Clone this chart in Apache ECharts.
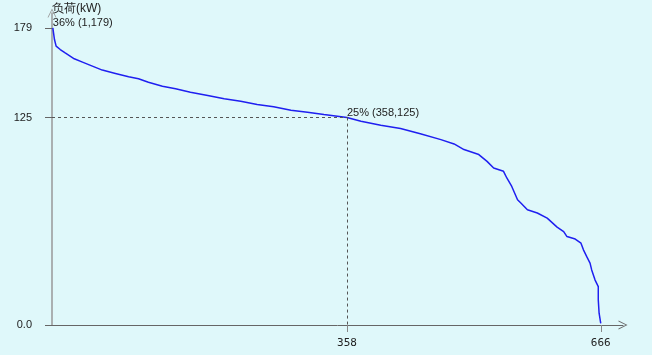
<!DOCTYPE html>
<html>
<head>
<meta charset="utf-8" />
<style>
  html, body { margin: 0; padding: 0; background: #dff8fa; }
  #main { width: 652px; height: 355px; }
</style>
</head>
<body>
<div id="main"></div>
<script src="https://cdn.jsdelivr.net/npm/echarts@6/dist/echarts.min.js"></script>
<script>
// hours (sorted) and load in kW
var hours = [1, 3, 5, 10, 16, 27, 37, 49, 61, 77, 93, 105, 117, 134, 150, 168, 189, 209, 229, 249,
  269, 290, 310, 330, 358, 375, 399, 423, 447, 472, 488, 500, 518, 528, 536, 548, 552, 558, 565, 569,
  577, 589, 601, 613, 621, 625, 635, 642, 645, 649, 653, 655, 659, 663, 663, 664, 666];
var loads = [179, 172, 168, 166, 164, 160.4, 158.4, 156, 153.6, 151.6, 149.6, 148.4, 146.3, 143.9, 142.3, 140.3, 138.3, 136.3, 134.8, 132.9,
  131.5, 129.4, 128.2, 126.8, 125, 122.8, 120.4, 118.4, 115.2, 111.7, 109.1, 105.7, 102.7, 98.6, 94.6, 92.6, 88.6, 83.5, 75.5, 73.5,
  69.4, 67.5, 64.4, 59, 56.3, 53.3, 51.8, 49.3, 45.3, 41.2, 37.3, 33.2, 27.2, 23.1, 15.1, 7.1, 1];

var xTicks = [358, 666];
var yTicks = [0, 125, 179];
var yTickText = ['0.0', '125', '179'];

var peak = [1, 179];
var mark = [358, 125];
var peakText = '36% (1,179)';
var markText = '25% (358,125)';

var chart = echarts.init(document.getElementById('main'));
var chevron = 'path://M0,10 L5,0 L10,10 L9,10 L5,2 L1,10 Z';

var option = {
  backgroundColor: '#dff8fa',
  animation: false,
  grid: { left: 52, right: 29, top: 13, bottom: 30 },
  xAxis: {
    type: 'value',
    min: 0,
    max: 693,
    splitLine: { show: false },
    axisLine: { lineStyle: { color: '#666', width: 1 }, symbol: ['none', chevron], symbolSize: [9, 12] },
    axisTick: { customValues: xTicks, length: 7, lineStyle: { color: '#888' } },
    axisLabel: { customValues: xTicks, margin: 13, color: '#222', fontSize: 11, fontFamily: 'DejaVu Sans Mono' }
  },
  yAxis: {
    type: 'value',
    min: 0,
    max: 188,
    name: '负荷(kW)',
    nameLocation: 'end',
    nameGap: -2,
    nameTextStyle: { align: 'left', color: '#222', fontSize: 12, padding: [0, 0, 0, 0] },
    splitLine: { show: false },
    axisLine: { lineStyle: { color: '#999', width: 1.5 }, symbol: ['none', chevron], symbolSize: [9, 12] },
    axisTick: { customValues: yTicks, length: 7, lineStyle: { color: '#666' } },
    axisLabel: {
      customValues: yTicks, margin: 20, color: '#222', fontSize: 11,
      formatter: function (v) { return yTickText[yTicks.indexOf(v)]; }
    }
  },
  series: [{
    type: 'line',
    data: hours.map(function (h, i) { return [h, loads[i]]; }),
    showSymbol: false,
    lineStyle: { color: '#1f1ff0', width: 1.5 },
    markLine: {
      silent: true,
      symbol: 'none',
      label: { show: false },
      lineStyle: { color: '#555', type: [3, 3], width: 1 },
      data: [
        [{ coord: [0, mark[1]] }, { coord: mark }],
        [{ coord: mark }, { coord: [mark[0], 0] }]
      ]
    },
    markPoint: {
      silent: true,
      symbol: 'circle',
      symbolSize: 0,
      label: {
        show: true, position: 'right', distance: 0, offset: [0, -5],
        color: '#222', fontSize: 11,
        formatter: function (p) { return p.name; }
      },
      data: [
        { name: peakText, coord: peak },
        { name: markText, coord: mark }
      ]
    }
  }]
};
chart.setOption(option);
</script>
</body>
</html>
